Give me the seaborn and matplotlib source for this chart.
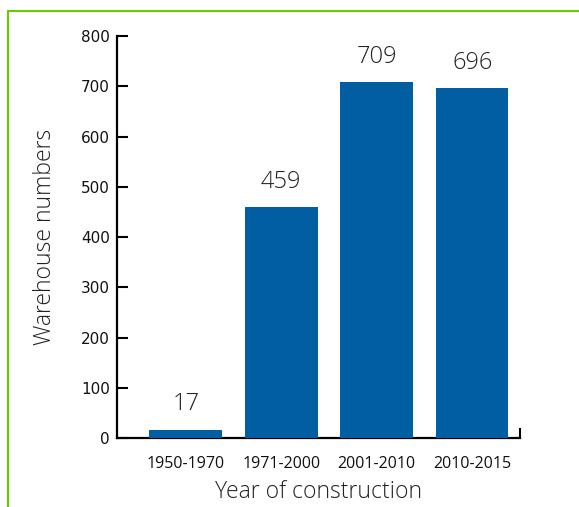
import matplotlib
matplotlib.use("Agg")
import matplotlib.pyplot as plt
from matplotlib.lines import Line2D
import seaborn as sns
import pandas as pd

periods = ["1950-1970", "1971-2000", "2001-2010", "2010-2015"]
warehouses = [17, 459, 709, 696]
y_ticks = [0, 100, 200, 300, 400, 500, 600, 700, 800]

sns.set_theme(style="white")
plt.rcParams["font.family"] = ["Open Sans", "DejaVu Sans"]

df = pd.DataFrame({"period": periods, "count": warehouses})

fig = plt.figure(figsize=(5.79, 5.07), dpi=100)
ax = fig.add_axes([0.2021, 0.136, 0.6959, 0.793])

bar_color = "#005EA1"
sns.barplot(data=df, x="period", y="count", color=bar_color, saturation=1,
            width=0.76, linewidth=0, ax=ax, zorder=1)

for i, v in enumerate(warehouses):
    ax.annotate(f"{v}", (i, v), xytext=(0, 9.5), textcoords="offset points",
                ha="center", va="bottom", fontsize=17, color="#222222",
                fontweight="light")

ax.set_ylim(0, 800)
ax.set_xlim(-0.72, 3.5)
ax.set_yticks(y_ticks)
ax.set_yticklabels([str(t) for t in y_ticks], fontsize=11, family="DejaVu Sans",
                   color="#111111")
ax.tick_params(axis="y", left=True, direction="in", length=8, width=1.5,
               color="black", pad=5)
ax.tick_params(axis="x", which="major", bottom=True, length=0, pad=13,
               labelsize=11.5, labelcolor="#111111")
# closing tick at the right end of the baseline
ax.set_xticks([3.5], minor=True)
ax.tick_params(axis="x", which="minor", bottom=True, direction="in", length=7,
               width=1.5, color="black")

for side in ("top", "right"):
    ax.spines[side].set_visible(False)
for side in ("left", "bottom"):
    ax.spines[side].set_color("black")
    ax.spines[side].set_linewidth(1.6)
    ax.spines[side].set_zorder(0.5)

ax.set_xlabel("Year of construction", fontsize=16.5, color="#222222",
              fontweight="light", labelpad=6)
ax.set_ylabel("Warehouse numbers", fontsize=16.5, color="#222222",
              fontweight="light", labelpad=17)

# green frame along the top and left edges
green = "#66CC00"
fig.add_artist(Line2D([8 / 579, 8 / 579], [0, 1 - 11 / 507], transform=fig.transFigure,
                      color=green, lw=1.5))
fig.add_artist(Line2D([8 / 579, 1], [1 - 11 / 507, 1 - 11 / 507], transform=fig.transFigure,
                      color=green, lw=1.5))

fig.savefig("out.png", dpi=100)
